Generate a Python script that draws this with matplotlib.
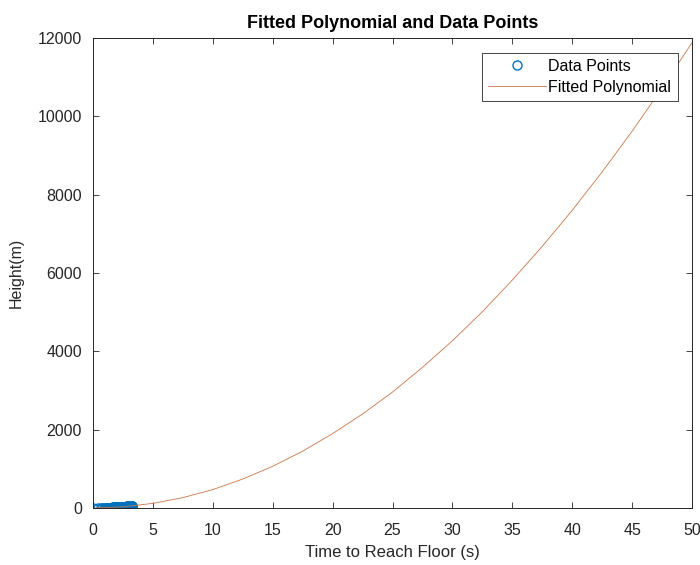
import matplotlib
matplotlib.use("Agg")
import matplotlib.pyplot as plt

plt.rcParams['font.family'] = ['Liberation Sans', 'DejaVu Sans']

# measured drop data: time to reach floor (s) vs height (m)
data_time = [0.00, 0.45, 0.64, 0.78, 0.90, 1.01, 1.11, 1.20, 1.28, 1.36,
             1.43, 1.50, 1.56, 1.63, 1.69, 1.75, 1.81, 1.86, 1.92, 1.97,
             2.02, 2.07, 2.12, 2.17, 2.21, 2.26, 2.30, 2.35, 2.39, 2.43,
             2.47, 2.52, 2.56, 2.60, 2.63, 2.67, 2.71, 2.75, 2.78, 2.82,
             2.86, 2.89, 2.93, 2.96, 3.00, 3.03, 3.06, 3.10, 3.13, 3.16,
             3.19, 3.23, 3.26, 3.29]
data_height = [0, 1, 2, 3, 4, 5, 6, 7, 8, 9,
               10, 11, 12, 13, 14, 15, 16, 17, 18, 19,
               20, 21, 22, 23, 24, 25, 26, 27, 28, 29,
               30, 31, 32, 33, 34, 35, 36, 37, 38, 39,
               40, 41, 42, 43, 44, 45, 46, 47, 48, 49,
               50, 51, 52, 53]

# fitted polynomial
fit_time = [0, 2.5, 5, 7.5, 10, 12.5, 15, 17.5, 20, 22.5, 25, 27.5,
            30, 32.5, 35, 37.5, 40, 42.5, 45, 47.5, 50]
fit_height = [0, 30, 118, 265, 470, 740, 1065, 1450, 1900, 2400, 2960, 3590,
              4270, 5010, 5820, 6680, 7600, 8580, 9620, 10720, 11880]

fig = plt.figure(figsize=(7, 5.65), dpi=100)
ax = fig.add_axes([93 / 700, 57 / 565, 599 / 700, 470 / 565])

ax.plot(data_time, data_height, 'o', markersize=6.5, markerfacecolor='none',
        markeredgecolor='#0072BD', markeredgewidth=1.0, label='Data Points')
ax.plot(fit_time, fit_height, '-', color='#CF7444', linewidth=0.6,
        label='Fitted Polynomial')

ax.set_xlim(0, 50)
ax.set_ylim(0, 12000)
ax.set_xticks(range(0, 51, 5))
ax.set_yticks(range(0, 12001, 2000))

ax.tick_params(direction='in', top=True, right=True, length=4, width=0.6,
               labelsize=11.5, colors='#262626')
ax.tick_params(axis='x', pad=10.5)
ax.tick_params(axis='y', pad=8)
for sp in ax.spines.values():
    sp.set_linewidth(0.7)
    sp.set_color('#262626')

ax.set_xlabel('Time to Reach Floor (s)', fontsize=12, color='#262626', labelpad=5)
ax.set_ylabel('Height(m)', fontsize=11.5, color='#262626', labelpad=10)
ax.set_title('Fitted Polynomial and Data Points', fontsize=13, fontweight='bold',
             pad=7)

leg = ax.legend(loc='upper right', bbox_to_anchor=(0.976, 0.969),
                borderaxespad=0, fancybox=False, fontsize=11.5, handlelength=3.6,
                handletextpad=0.15, framealpha=1, edgecolor='#262626',
                borderpad=0.4, labelspacing=0.35)
leg.get_frame().set_linewidth(0.6)

fig.savefig('out.png', dpi=100)
